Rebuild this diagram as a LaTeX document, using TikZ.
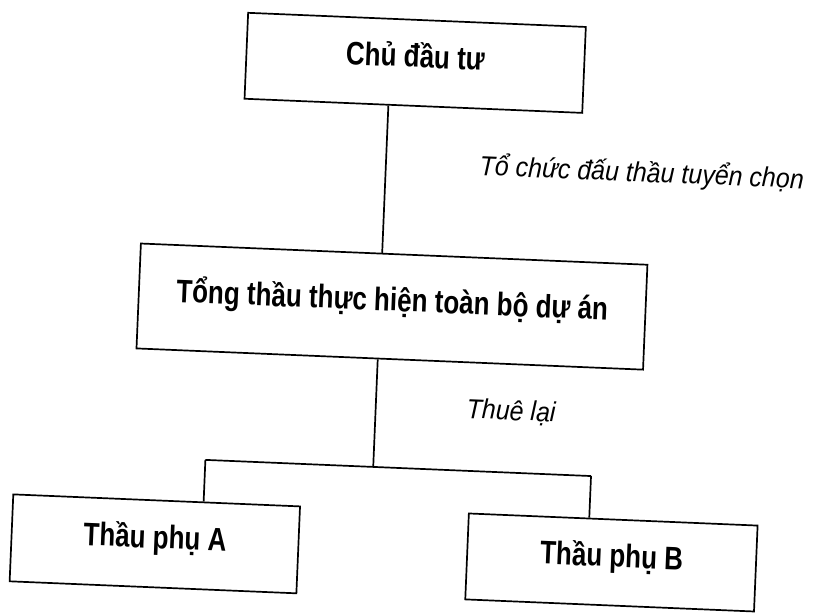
\documentclass[tikz,border=0pt]{standalone}
\usepackage{fontspec}
\usepackage{graphicx}
\setmainfont{Liberation Sans}
\newcommand{\talltxt}[2][1.25]{\scalebox{1}[#1]{#2}}
\begin{document}
\begin{tikzpicture}[x=1pt,y=-1pt,
  box/.style={draw, line width=1.7pt, inner sep=0pt, text height=0.895em, text depth=0pt,
    font=\fontsize{26}{30}\selectfont\bfseries},
  lbl/.style={inner sep=0pt, text height=0.79em, text depth=0pt,
    font=\fontsize{25}{29}\selectfont\itshape},
  conn/.style={line width=1.7pt}]
\fill[white] (0,0) rectangle (829,613);
\useasboundingbox (0,0) rectangle (829,613);
\begin{scope}[rotate around={-2.4:(414,306)}, transform shape]
  \node[box, minimum width=338pt, minimum height=86pt] (top) at (405,63) {\talltxt{Chủ đầu tư}};
  \node[box, minimum width=507pt, minimum height=105pt] (mid) at (392,307.5) {\talltxt{Tổng thầu thực hiện toàn bộ dự án}};
  \node[box, minimum width=287pt, minimum height=87pt] (A) at (165,554.5) {\talltxt{Thầu phụ A}};
  \node[box, minimum width=289pt, minimum height=86pt] (B) at (622,554) {\talltxt{Thầu phụ B}};
  \node[lbl] (l1) at (636,168.5) {\talltxt[1.1]{Tổ chức đấu thầu tuyển chọn}};
  \node[lbl] (l2) at (515.5,412) {\talltxt[1.1]{Thuê lại}};
  \coordinate (j) at (380,468.5);
  \coordinate (jl) at (212,468.5);
  \coordinate (jr) at (598,468.5);
  \draw[conn] (top.south -| j) -- (mid.north -| j);
  \draw[conn] (mid.south -| j) -- (j);
  \draw[conn] (jl) -- (jr);
  \draw[conn] (jl) -- (A.north -| jl);
  \draw[conn] (jr) -- (B.north -| jr);
\end{scope}
\end{tikzpicture}
\end{document}
